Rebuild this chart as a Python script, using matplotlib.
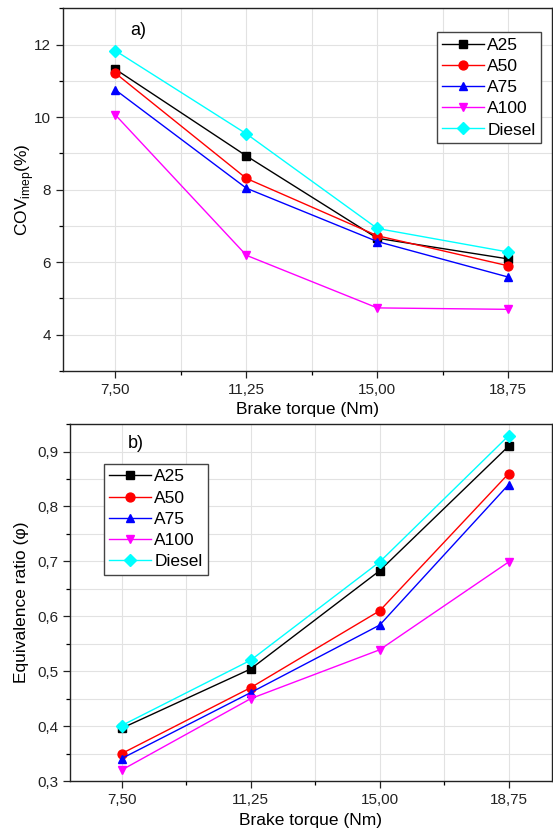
import matplotlib
matplotlib.use("Agg")
import matplotlib.pyplot as plt
from matplotlib.ticker import FixedLocator, MultipleLocator, FuncFormatter

plt.rcParams['font.family'] = ['Liberation Sans', 'DejaVu Sans']
plt.rcParams['mathtext.fontset'] = 'custom'
plt.rcParams['mathtext.rm'] = 'Liberation Sans'

torque = [7.50, 11.25, 15.00, 18.75]
fuels = ['A25', 'A50', 'A75', 'A100', 'Diesel']
colors = ['black', 'red', 'blue', 'magenta', 'cyan']
markers = ['s', 'o', '^', 'v', 'D']

# COV of IMEP (%)
cov_a25 = [11.32, 8.93, 6.66, 6.09]
cov_a50 = [11.21, 8.31, 6.73, 5.90]
cov_a75 = [10.75, 8.04, 6.57, 5.59]
cov_a100 = [10.06, 6.19, 4.74, 4.70]
cov_diesel = [11.83, 9.54, 6.93, 6.28]

# equivalence ratio
phi_a25 = [0.396, 0.504, 0.683, 0.910]
phi_a50 = [0.350, 0.470, 0.610, 0.860]
phi_a75 = [0.341, 0.461, 0.584, 0.840]
phi_a100 = [0.320, 0.450, 0.539, 0.699]
phi_diesel = [0.401, 0.520, 0.699, 0.929]

cov_all = [cov_a25, cov_a50, cov_a75, cov_a100, cov_diesel]
phi_all = [phi_a25, phi_a50, phi_a75, phi_a100, phi_diesel]

fig = plt.figure(figsize=(5.53, 8.30), dpi=100)
ax1 = fig.add_axes([0.114, 0.553, 0.884, 0.437])
ax2 = fig.add_axes([0.1266, 0.059, 0.871, 0.430])


def comma(fmt):
    return FuncFormatter(lambda v, p: (fmt % v).replace('.', ','))


def style(ax):
    ax.set_xlim(6, 20)
    ax.xaxis.set_major_locator(FixedLocator(torque))
    ax.xaxis.set_minor_locator(FixedLocator([9.375, 13.125, 16.875]))
    ax.xaxis.set_major_formatter(comma('%.2f'))
    ax.grid(True, which='both', color='#e2e2e2', lw=0.8)
    ax.set_axisbelow(True)
    ax.tick_params(which='major', direction='out', length=5, width=0.9,
                   labelsize=11, colors='#222222')
    ax.tick_params(which='minor', direction='out', length=3, width=0.9)
    for s in ax.spines.values():
        s.set_linewidth(1.0)
        s.set_color('#222222')
    ax.set_xlabel('Brake torque (Nm)', fontsize=12.5)
    ax.xaxis.label.set_va('center')


def add_legend(ax, loc, anchor):
    ax.legend(loc=loc, bbox_to_anchor=anchor, borderaxespad=0, fontsize=12.5,
              handlelength=2.4, handletextpad=0.2, borderpad=0.3,
              labelspacing=0.35, fancybox=False, edgecolor='#444444',
              framealpha=1)


for ax, data in [(ax1, cov_all), (ax2, phi_all)]:
    for name, c, m, vals in zip(fuels, colors, markers, data):
        ms = 5.8 if m == 'D' else 6.4
        ax.plot(torque, vals, color=c, marker=m, ms=ms, lw=1.0, label=name)
    style(ax)

ax1.set_ylim(3, 13)
ax1.yaxis.set_major_locator(MultipleLocator(2))
ax1.yaxis.set_minor_locator(MultipleLocator(1))
ax1.yaxis.set_major_formatter(comma('%d'))
ax1.set_ylabel(r'COV$_{\mathregular{imep}}$(%)', fontsize=12.5)
ax1.yaxis.label.set_va('center')
ax1.yaxis.set_label_coords(-0.078, 0.5)
ax1.xaxis.set_label_coords(0.5, -0.107)
ax1.text(0.137, 0.94, 'a)', transform=ax1.transAxes, fontsize=13,
         va='center')
add_legend(ax1, 'upper right', (0.977, 0.934))

ax2.set_ylim(0.3, 0.95)
ax2.yaxis.set_major_locator(MultipleLocator(0.1))
ax2.yaxis.set_minor_locator(MultipleLocator(0.05))
ax2.yaxis.set_major_formatter(comma('%.1f'))
ax2.set_ylabel('Equivalence ratio (φ)', fontsize=12.5)
ax2.yaxis.label.set_va('center')
ax2.yaxis.set_label_coords(-0.1, 0.5)
ax2.xaxis.set_label_coords(0.5, -0.11)
ax2.text(0.12, 0.947, 'b)', transform=ax2.transAxes, fontsize=13,
         va='center')
add_legend(ax2, 'upper left', (0.0705, 0.888))

fig.savefig('out.png', dpi=100)
